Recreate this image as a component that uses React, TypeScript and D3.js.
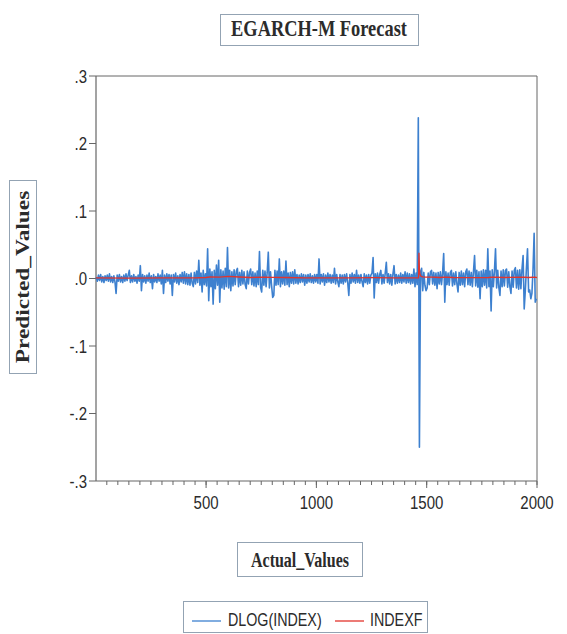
import React from "react";
import * as d3 from "d3";

// ---------- data ----------
// DLOG(INDEX) in thousandths, observations start at 2, every 5th observation
const dlogStart = 2;
const dlogStep = 5;
const dlogIndexMilli = [
  2,-4,5,-3,6,-5,3,-6,4,-3,5,-4,7,-5,3,-6,4,-5,-22,5,
  -4,6,-5,3,-6,5,-4,7,-3,5,12,-6,4,-5,6,-4,3,-7,5,-4,
  19,-18,6,-5,4,-7,5,-4,8,-6,4,-15,6,-5,3,-6,7,-4,5,-8,
  12,-22,5,-6,7,-4,6,-8,5,-25,6,-5,8,-7,4,-9,6,-5,9,-7,
  10,-8,7,-9,6,-10,8,-7,-12,9,-8,11,-6,27,-10,8,-20,12,-9,7,
  -11,44,-33,14,-12,10,-38,12,-15,20,-10,27,-35,13,-14,11,-16,15,-12,46,
  -14,12,-18,10,-11,13,-9,11,15,-12,9,-10,12,-8,10,-9,-15,11,-8,9,
  14,-9,10,-11,8,-12,11,-9,40,-13,-20,12,-10,11,-12,9,39,-14,10,-11,
  -28,-25,12,-10,11,-9,29,-12,10,-8,11,-10,26,-9,8,-12,9,-7,10,-8,
  13,-7,6,-8,5,-6,7,-5,6,-10,5,-7,6,-5,7,-6,4,-7,6,-5,
  6,-7,29,-8,6,-5,7,-10,5,-6,8,-5,6,-7,5,-6,15,-8,6,-5,
  -12,6,-7,5,-8,6,-5,7,-6,-25,6,-7,8,-5,6,-7,12,-6,5,-7,
  6,-5,-12,7,-6,5,-8,6,-7,5,8,31,-29,7,-6,8,-7,6,12,-8,
  6,-7,8,24,-6,7,-8,6,-10,7,19,-8,6,-7,5,-6,8,-7,6,-5,
  10,-7,8,-6,7,-8,6,-7,14,-12,8,-9,238,-250,10,15,-18,9,-10,-18,
  -14,8,-9,10,12,-8,9,-10,8,-15,9,-8,10,-9,8,37,-35,10,-9,8,
  -10,9,12,-11,8,-9,10,-8,-20,9,-10,11,-9,8,-12,10,14,-9,11,-10,
  9,-12,10,34,-11,12,-13,10,-30,11,-12,13,-10,12,-14,44,-12,11,-48,13,
  -12,11,44,-14,12,-13,-25,11,-12,13,-11,12,14,-13,10,-12,-22,11,-13,12,
  16,-14,12,-16,13,-15,14,34,-45,-18,15,44,-20,-17,-30,-22,14,67,-35,-30,
];

// INDEXF (forecast) in thousandths
const indexfObs = [1,150,300,450,500,520,560,600,650,700,760,800,860,950,1050,1150,1260,1350,1450,1463,1465,1467,1469,1472,1476,1482,1490,1520,1560,1580,1620,1700,1780,1800,1850,1940,1960,1990,2000];
const indexfMilli = [0.8,0.6,0.8,1.0,1.5,2.5,2.0,3.0,2.2,1.5,2.0,1.8,1.5,1.0,0.8,0.9,1.2,1.0,0.8,0.9,38,14,7,4,3,2.5,2,2,1.5,2,1.5,1.2,1.5,2,1.5,2,1.5,2,1.2];

const yTicks = [0.3, 0.2, 0.1, 0, -0.1, -0.2, -0.3];
const yTickLabels = [".3", ".2", ".1", ".0", "-.1", "-.2", "-.3"];
const xMajorTicks = [500, 1000, 1500, 2000];
const xMinorTicks = d3.range(50, 2001, 50);

const titleText = "EGARCH-M Forecast";
const xLabelText = "Actual_Values";
const yLabelText = "Predicted_Values";
const seriesNames = ["DLOG(INDEX)", "INDEXF"];

// ---------- layout ----------
const W = 567, H = 634;
const L = 96, R = 537, T = 76, B = 481;
const SY = 1.27; // vertical stretch of lettering
const BLUE = "#3d80cf";
const RED = "#e2332c";
const AXIS = "#666";
const BOX = "#93a3b3";
const TXT = "#2b2b2b";
const SERIF = "'Liberation Serif', 'Times New Roman', serif";
const SANS = "'Liberation Sans', Arial, sans-serif";

function T2({ x, y, size, anchor = "middle", family, weight = "normal", children, rotate = 0, dy = 0 }: any) {
  return (
    <text
      transform={`translate(${x},${y}) scale(1,${SY})${rotate ? ` rotate(${rotate})` : ""}`}
      fontSize={size}
      fontFamily={family}
      fontWeight={weight}
      textAnchor={anchor}
      dy={dy}
      fill={TXT}
    >
      {children}
    </text>
  );
}

export default function App() {
  const x = d3.scaleLinear().domain([1, 2000]).range([L, R]);
  const y = d3.scaleLinear().domain([-0.3, 0.3]).range([B, T]);

  const blue = dlogIndexMilli.map((v, i) => [dlogStart + dlogStep * i, v / 1000] as [number, number]);
  const red = indexfObs.map((o, i) => [o, indexfMilli[i] / 1000] as [number, number]);
  const line = d3.line<[number, number]>().x(d => x(d[0])).y(d => y(d[1]));

  return (
    <svg width={W} height={H} style={{ position: "absolute", left: 0, top: 0, background: "#fff" }}>
      <rect x={0} y={0} width={W} height={H} fill="#fff" />
      {/* title */}
      <rect x={220.5} y={14.5} width={198} height={31} fill="none" stroke={BOX} strokeWidth={1} />
      <T2 x={319} y={36} size={18.4} family={SERIF} weight="bold">{titleText}</T2>

      {/* frame */}
      <path d={`M${L},${T}H${R}V${B}`} fill="none" stroke={AXIS} strokeWidth={1} />
      <line x1={L} x2={L} y1={T} y2={B} stroke={AXIS} strokeWidth={1.2} />
      <line x1={L} x2={R} y1={B} y2={B} stroke={AXIS} strokeWidth={1.2} />

      {/* y ticks */}
      {yTicks.map((t, i) => (
        <g key={"y" + i}>
          <line x1={L - 7} x2={L} y1={y(t)} y2={y(t)} stroke={AXIS} strokeWidth={1} />
          <T2 x={L - 9} y={y(t) + 6.5} size={15} family={SANS} anchor="end">{yTickLabels[i]}</T2>
        </g>
      ))}

      {/* x ticks */}
      {xMinorTicks.map(t => (
        <line key={"m" + t} x1={x(t)} x2={x(t)} y1={B} y2={B + 4} stroke={AXIS} strokeWidth={1} />
      ))}
      {xMajorTicks.map(t => (
        <g key={"M" + t}>
          <line x1={x(t)} x2={x(t)} y1={B} y2={B + 7} stroke={AXIS} strokeWidth={1} />
          <T2 x={x(t)} y={509} size={15} family={SANS}>{String(t)}</T2>
        </g>
      ))}

      {/* series */}
      <path d={line(blue) || ""} fill="none" stroke={BLUE} strokeWidth={1.6} strokeLinejoin="round" />
      <path d={line(red) || ""} fill="none" stroke={RED} strokeWidth={1.3} />

      {/* x label */}
      <rect x={237.5} y={542.5} width={125} height={34} fill="none" stroke={BOX} strokeWidth={1} />
      <T2 x={300} y={567} size={16} family={SERIF} weight="bold">{xLabelText}</T2>

      {/* y label */}
      <rect x={9.5} y={180.5} width={27} height={193} fill="none" stroke={BOX} strokeWidth={1} />
      <T2 x={29} y={277} size={18.4} family={SERIF} weight="bold" rotate={-90}>{yLabelText}</T2>

      {/* legend */}
      <rect x={183.5} y={601.5} width={244} height={31} fill="none" stroke={BOX} strokeWidth={1} />
      <line x1={192} x2={221} y1={621} y2={621} stroke={BLUE} strokeWidth={1.3} />
      <T2 x={228} y={626} size={14.3} family={SANS} anchor="start">{seriesNames[0]}</T2>
      <line x1={335} x2={364} y1={621} y2={621} stroke={RED} strokeWidth={1.3} />
      <T2 x={370} y={626} size={14.3} family={SANS} anchor="start">{seriesNames[1]}</T2>
    </svg>
  );
}
